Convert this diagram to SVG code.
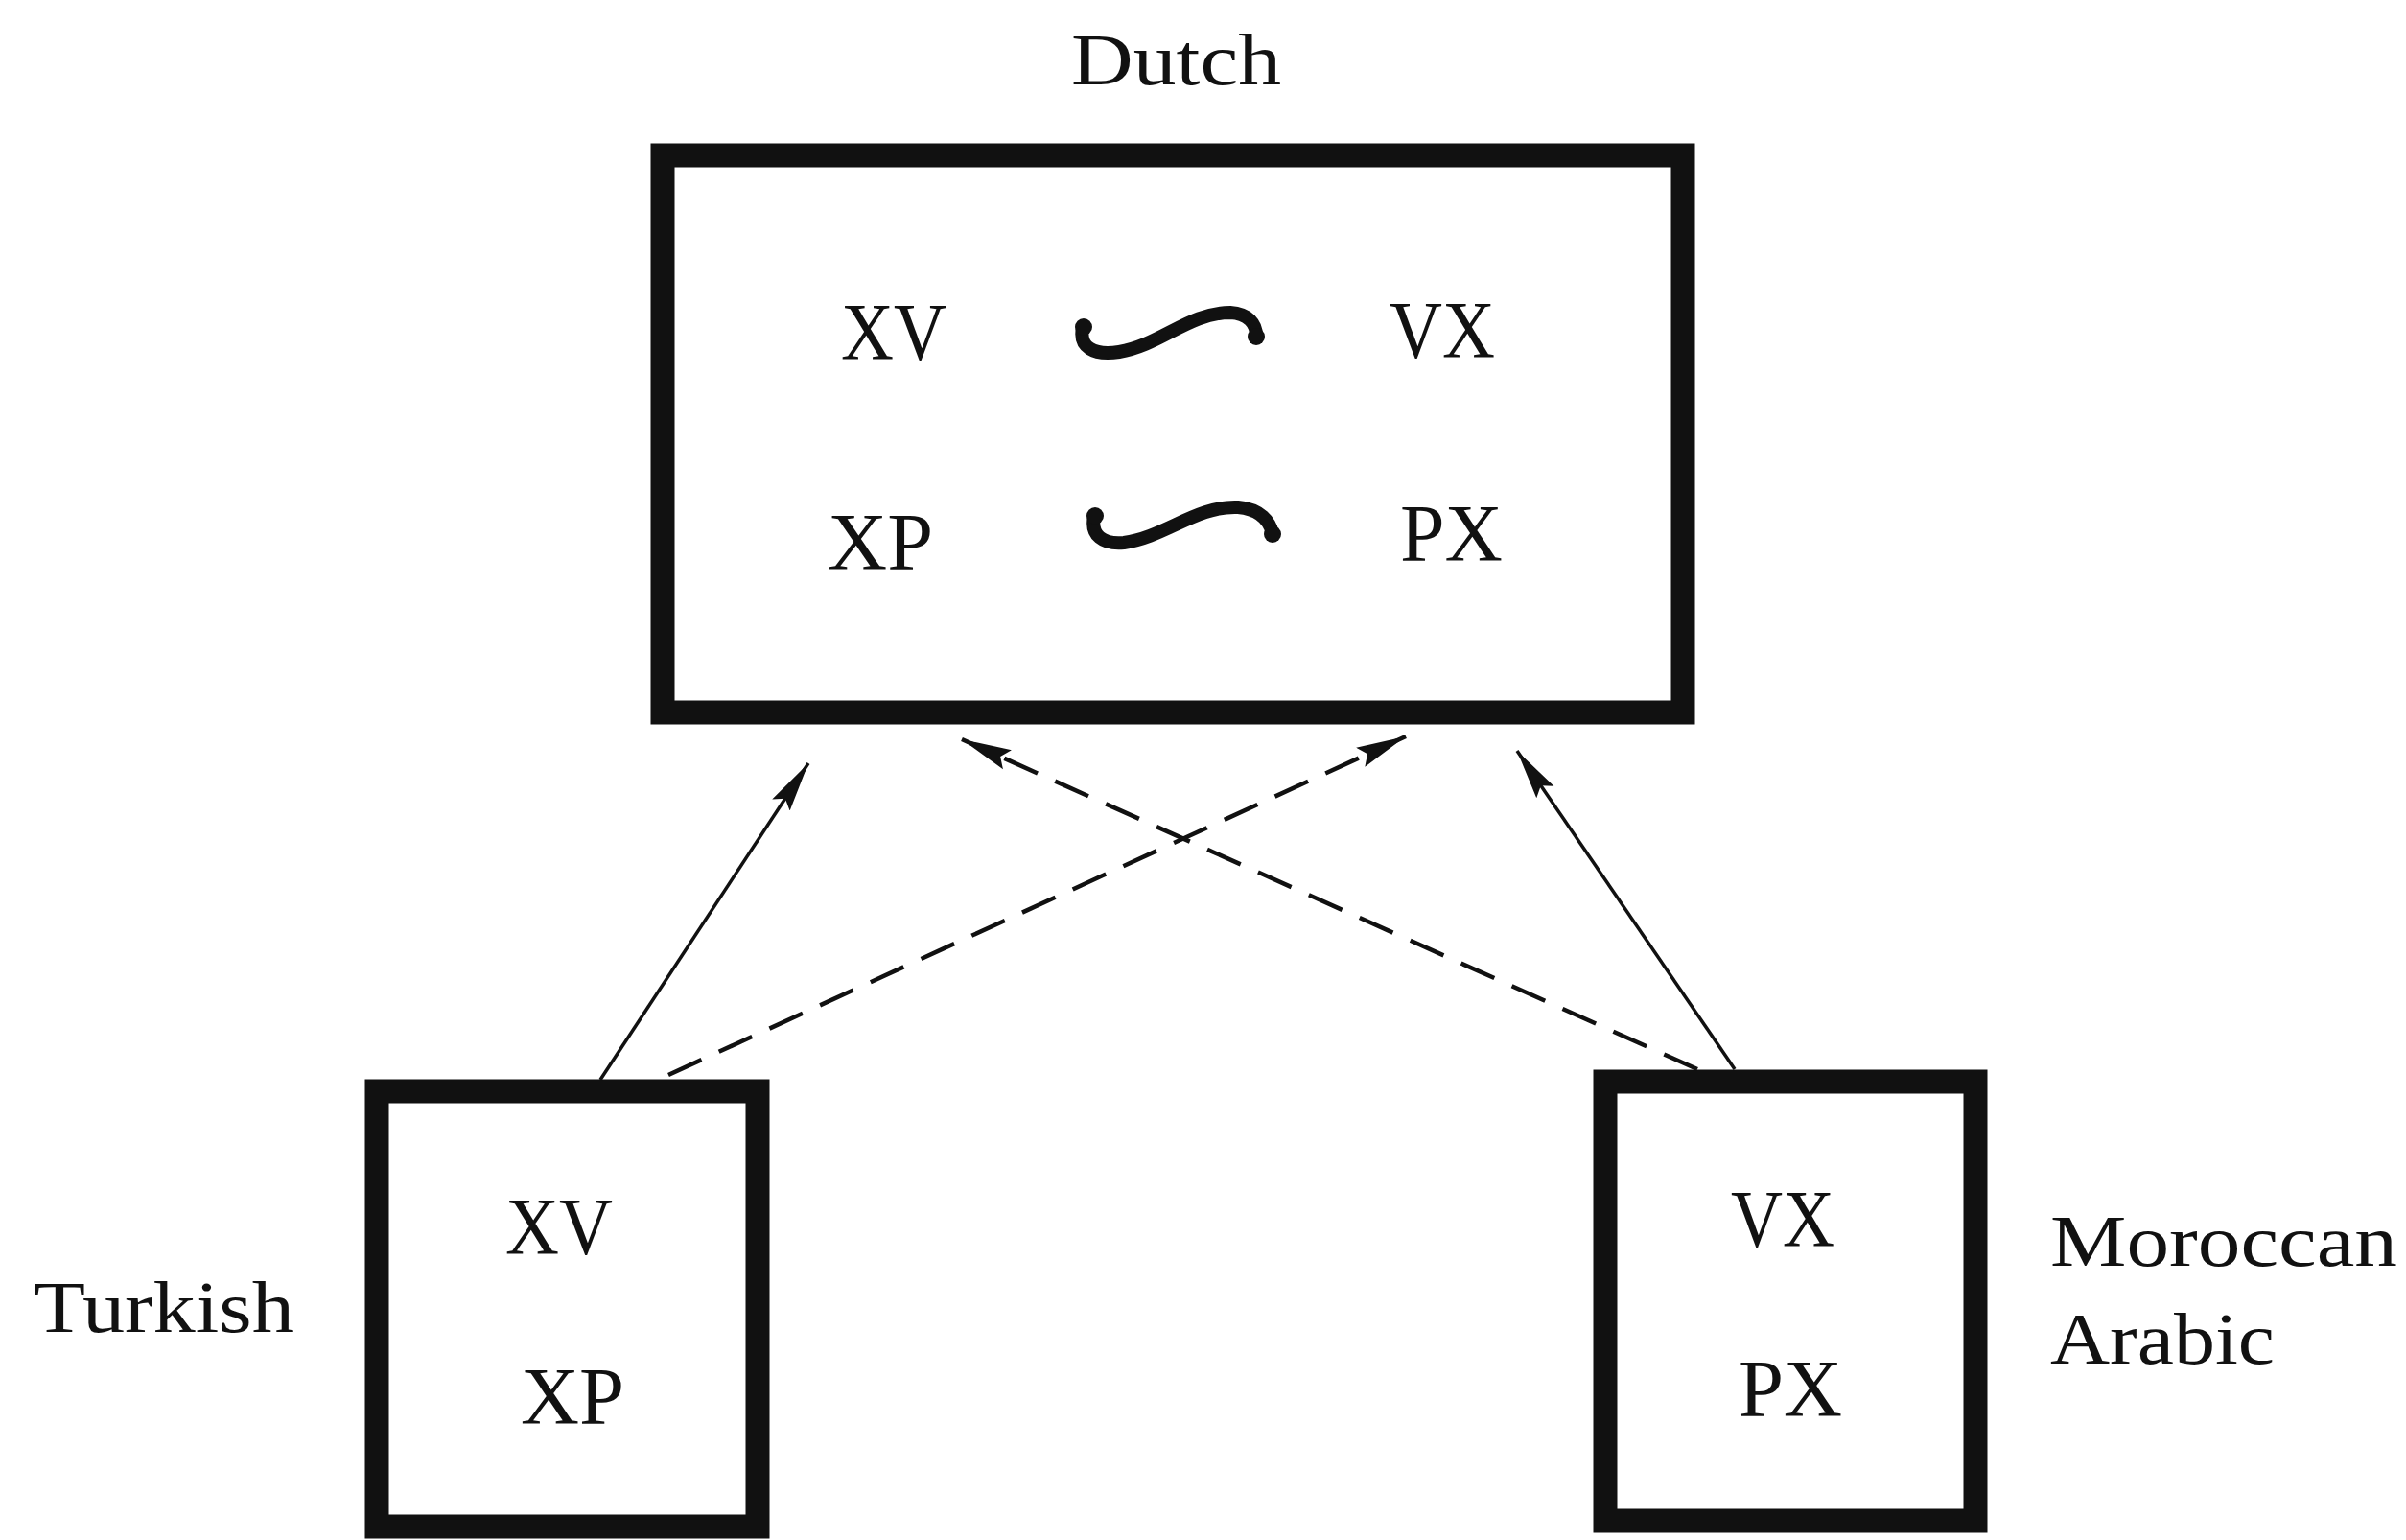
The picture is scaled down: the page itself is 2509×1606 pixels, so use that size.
<svg xmlns="http://www.w3.org/2000/svg" width="2509" height="1606" viewBox="0 0 2509 1606">
<style>
.box{fill:#fff;stroke:#111;stroke-width:25}
.t{font-family:"Liberation Serif","Times New Roman",serif;font-size:84px;fill:#111}
.lbl{font-family:"Liberation Serif","Times New Roman",serif;font-size:76px;fill:#111}
.solid{stroke:#111;stroke-width:3.5;fill:none}
.dash{stroke:#111;stroke-width:4.5;fill:none;stroke-dasharray:38 20}
.tilde{stroke:#111;stroke-width:14;fill:none;stroke-linecap:round}
.dot{fill:#111}
</style>
<defs>
<marker id="ah" markerUnits="userSpaceOnUse" markerWidth="56" markerHeight="26" refX="52" refY="12" orient="auto">
<path d="M0,1 L52,12 L0,23 L8,12 z" fill="#111"/>
</marker>
</defs>
<rect width="2509" height="1606" fill="#fff"/>
<g id="dutch">
<text class="lbl" x="1117" y="88" textLength="219" lengthAdjust="spacingAndGlyphs" font-size="80">Dutch</text>
<rect class="box" x="691" y="162" width="1064" height="581"/>
<text class="t" x="877" y="375" textLength="110" lengthAdjust="spacingAndGlyphs">XV</text>
<text class="t" x="1449" y="373" textLength="110" lengthAdjust="spacingAndGlyphs">VX</text>
<text class="t" x="863" y="594" textLength="110" lengthAdjust="spacingAndGlyphs">XP</text>
<text class="t" x="1460" y="585" textLength="107" lengthAdjust="spacingAndGlyphs">PX</text>
<path class="tilde" d="M1129,342 C1125,362 1140,371 1167,367 C1210,360 1240,326 1283,326 C1302,327 1310,338 1310,350"/>
<circle class="dot" cx="1130" cy="341" r="9"/>
<circle class="dot" cx="1310" cy="351" r="9"/>
<path class="tilde" d="M1141,539 C1137,558 1150,568 1172,566 C1215,560 1248,527 1291,529 C1315,531 1324,544 1327,556"/>
<circle class="dot" cx="1142" cy="538" r="9"/>
<circle class="dot" cx="1327" cy="557" r="9"/>
</g>
<g id="turkish">
<rect class="box" x="393" y="1138" width="397" height="454"/>
<text class="t" x="527" y="1308" textLength="112" lengthAdjust="spacingAndGlyphs">XV</text>
<text class="t" x="543" y="1485" textLength="108" lengthAdjust="spacingAndGlyphs">XP</text>
<text class="lbl" x="35" y="1389" textLength="272" lengthAdjust="spacingAndGlyphs">Turkish</text>
</g>
<g id="moroccan">
<rect class="box" x="1674" y="1128" width="386" height="458"/>
<text class="t" x="1805" y="1300" textLength="108" lengthAdjust="spacingAndGlyphs">VX</text>
<text class="t" x="1813" y="1477" textLength="108" lengthAdjust="spacingAndGlyphs">PX</text>
<text class="lbl" x="2138" y="1320" textLength="362" lengthAdjust="spacingAndGlyphs">Moroccan</text>
<text class="lbl" x="2138" y="1422" textLength="234" lengthAdjust="spacingAndGlyphs">Arabic</text>
</g>
<g id="connectors">
<line class="solid" x1="626" y1="1126" x2="843" y2="796" marker-end="url(#ah)"/>
<line class="dash" x1="697" y1="1121" x2="1466" y2="768" marker-end="url(#ah)"/>
<line class="dash" x1="1770" y1="1115" x2="1003" y2="771" marker-end="url(#ah)"/>
<line class="solid" x1="1809" y1="1115" x2="1582" y2="783" marker-end="url(#ah)"/>
</g>
</svg>
